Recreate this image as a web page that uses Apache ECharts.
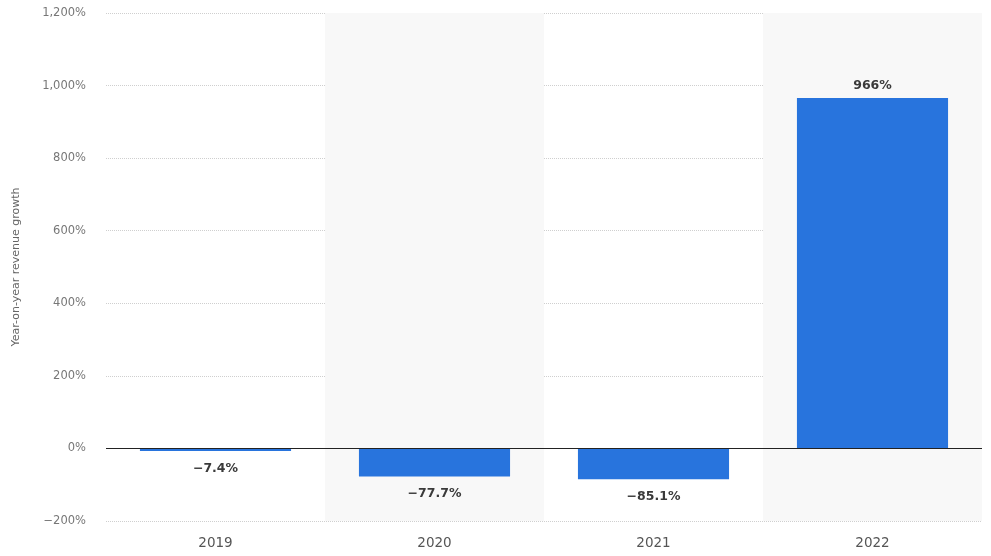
<!DOCTYPE html>
<html>
<head>
<meta charset="utf-8">
<script src="https://cdn.jsdelivr.net/npm/echarts@6/dist/echarts.min.js"></script>
<style>
html,body{margin:0;padding:0;background:#fff;}
#chart{width:991px;height:556px;}
</style>
</head>
<body>
<div id="chart"></div>
<script>
// Year-on-year revenue growth by year
const years = ['2019', '2020', '2021', '2022'];
const growth = [-7.4, -77.7, -85.1, 966];
const growthLabels = ['−7.4%', '−77.7%', '−85.1%', '966%'];
const yTicks = { min: -200, max: 1200, interval: 200 };

const fmtPct = v => (v < 0 ? '−' : '') + Math.abs(v).toLocaleString('en-US') + '%';
const FONT = 'DejaVu Sans, Verdana, sans-serif';

const barData = growth.map(v => ({
  value: v,
  label: { distance: v < 0 ? 11 : 6 }
}));

const chart = echarts.init(document.getElementById('chart'));
chart.setOption({
  backgroundColor: '#ffffff',
  animation: false,
  grid: { left: 106, right: 9, top: 13, bottom: 35, containLabel: false, outerBoundsMode: 'none' },
  xAxis: {
    type: 'category',
    data: years,
    axisLine: { show: false },
    axisTick: { show: false },
    axisLabel: { color: '#555', fontSize: 13.5, fontFamily: FONT, margin: 15 },
    splitArea: { show: true, areaStyle: { color: ['rgba(255,255,255,0)', '#f8f8f8'] } },
    z: 0
  },
  yAxis: {
    type: 'value',
    min: yTicks.min,
    max: yTicks.max,
    interval: yTicks.interval,
    name: 'Year-on-year revenue growth',
    nameLocation: 'middle',
    nameGap: 84,
    nameTextStyle: { color: '#666', fontSize: 11, fontFamily: FONT },
    axisLine: { show: false },
    axisTick: { show: false },
    axisLabel: { color: '#777', fontSize: 11.5, fontFamily: FONT, margin: 20, formatter: fmtPct },
    splitLine: { show: true, lineStyle: { color: '#cfcfcf', type: [1, 1], width: 1 } }
  },
  series: [{
    type: 'bar',
    data: barData,
    barWidth: '69%',
    itemStyle: { color: '#2874dd' },
    label: {
      show: true,
      position: 'outside',
      color: '#3a3a3a',
      fontSize: 12.5,
      fontWeight: 'bold',
      fontFamily: FONT,
      formatter: p => growthLabels[p.dataIndex]
    },
    markLine: {
      silent: true,
      symbol: 'none',
      label: { show: false },
      lineStyle: { color: '#222', type: 'solid', width: 1 },
      data: [{ yAxis: 0 }]
    },
    z: 3
  }]
});
</script>
</body>
</html>
